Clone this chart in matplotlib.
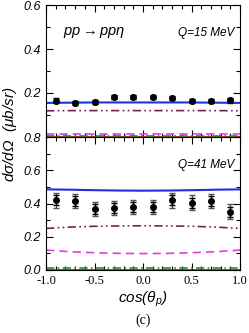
import matplotlib
matplotlib.use('Agg')
import matplotlib.pyplot as plt
from matplotlib.ticker import MultipleLocator, FixedLocator

#---------Data
cos_pts = [-0.9, -0.7, -0.5, -0.3, -0.1, 0.1, 0.3, 0.5, 0.7, 0.9]

# Q = 15 MeV
q15_val = [0.165, 0.155, 0.160, 0.183, 0.182, 0.183, 0.177, 0.163, 0.163, 0.166]
q15_err = [0.010, 0.010, 0.010, 0.010, 0.010, 0.010, 0.010, 0.010, 0.010, 0.010]

# Q = 41 MeV
q41_val = [0.420, 0.415, 0.365, 0.375, 0.380, 0.380, 0.420, 0.405, 0.415, 0.350]
q41_stat = [0.030, 0.030, 0.030, 0.030, 0.030, 0.030, 0.030, 0.030, 0.030, 0.030]
q41_tot = [0.045, 0.045, 0.042, 0.042, 0.042, 0.042, 0.045, 0.045, 0.045, 0.045]

# model curves
cos_line = [-1.0, -0.75, -0.5, -0.25, 0.0, 0.25, 0.5, 0.75, 1.0]
q15_full = [0.155, 0.156, 0.157, 0.157, 0.157, 0.157, 0.157, 0.156, 0.155]
q15_dd = [0.119, 0.120, 0.120, 0.120, 0.120, 0.120, 0.120, 0.120, 0.119]
q15_dash = [0.012, 0.012, 0.012, 0.012, 0.012, 0.012, 0.012, 0.012, 0.012]
q15_green = [0.006, 0.006, 0.006, 0.006, 0.006, 0.006, 0.006, 0.006, 0.006]
q41_full = [0.485, 0.483, 0.480, 0.478, 0.477, 0.478, 0.480, 0.483, 0.485]
q41_dd = [0.250, 0.258, 0.263, 0.265, 0.266, 0.265, 0.263, 0.258, 0.250]
q41_dash = [0.120, 0.110, 0.104, 0.100, 0.099, 0.100, 0.104, 0.110, 0.120]
q41_green = [0.010, 0.010, 0.010, 0.010, 0.010, 0.010, 0.010, 0.010, 0.010]
zero_line = [0.0] * len(cos_line)

#---------Styles
plt.rcParams['mathtext.fontset'] = 'custom'
plt.rcParams['mathtext.it'] = 'Liberation Sans:italic'
plt.rcParams['mathtext.rm'] = 'Liberation Sans:italic'
sans_it = {'family': 'Liberation Sans', 'style': 'italic'}
serif = {'family': 'Liberation Serif'}


def style_axes(ax, ymax, yticks):
    ax.set_xlim(-1.0, 1.0)
    ax.set_ylim(0.0, ymax)
    ax.xaxis.set_major_locator(MultipleLocator(0.5))
    ax.xaxis.set_minor_locator(MultipleLocator(0.1))
    ax.yaxis.set_major_locator(FixedLocator(yticks))
    ax.yaxis.set_minor_locator(MultipleLocator(0.1))
    ax.tick_params(which='both', direction='in', top=True, right=True)
    ax.tick_params(which='major', length=5, width=0.8)
    ax.tick_params(which='minor', length=3, width=0.8)
    ax.set_yticklabels(['%.1f' % t for t in yticks], fontdict=sans_it, fontsize=9)


def draw_curves(ax, full, dd, dash, green):
    ax.plot(cos_line, zero_line, color='#8b2a1a', lw=1.2)
    ax.plot(cos_line, green, color='#2e8b2e', lw=1.2, dashes=[5, 2, 1, 2])
    ax.plot(cos_line, dash, color='#e040e0', lw=1.2, dashes=[5, 3])
    ax.plot(cos_line, dd, color='#7a2050', lw=1.2, dashes=[5, 2, 1, 2, 1, 2])
    ax.plot(cos_line, full, color='#2030e0', lw=1.5)


fig = plt.figure(figsize=(2.49, 3.33), dpi=100)

ax_top = fig.add_axes([46 / 249, 1 - 137 / 333, 194 / 249, 132 / 333])
ax_bot = fig.add_axes([46 / 249, 1 - 270 / 333, 194 / 249, 133 / 333])

# top panel
draw_curves(ax_top, q15_full, q15_dd, q15_dash, q15_green)
ax_top.errorbar(cos_pts, q15_val, yerr=q15_err, fmt='o', color='black',
                ms=4, elinewidth=1, capsize=2, zorder=5)
style_axes(ax_top, 0.6, [0.2, 0.4, 0.6])
ax_top.set_xticklabels([])
ax_top.text(0.09, 0.79, r'$pp \rightarrow pp\eta$', transform=ax_top.transAxes,
            fontsize=10.5, va='center')
ax_top.text(0.97, 0.79, 'Q=15 MeV', transform=ax_top.transAxes, ha='right',
            va='center', fontdict=sans_it, fontsize=8.5)

# bottom panel
draw_curves(ax_bot, q41_full, q41_dd, q41_dash, q41_green)
ax_bot.errorbar(cos_pts, q41_val, yerr=q41_tot, fmt='none', ecolor='#505050',
                elinewidth=1, capsize=2.5, zorder=4)
ax_bot.errorbar(cos_pts, q41_val, yerr=q41_stat, fmt='o', color='black',
                ms=4, elinewidth=1, capsize=2, zorder=5)
style_axes(ax_bot, 0.8, [0.0, 0.2, 0.4, 0.6, 0.8])
ax_bot.set_xticks([-1.0, -0.5, 0.0, 0.5, 1.0])
ax_bot.set_xticklabels(['-1.0', '-0.5', '0.0', '0.5', '1.0'], fontdict=serif, fontsize=9)
ax_bot.text(0.97, 0.79, 'Q=41 MeV', transform=ax_bot.transAxes, ha='right',
            va='center', fontdict=sans_it, fontsize=8.5)
ax_bot.set_xlabel(r'cos($\theta_p$)', fontdict=sans_it, fontsize=11, labelpad=2)

# shared y label
fig.text(0.04, 1 - 134 / 333, r'd$\sigma$/d$\Omega$  ($\mu$b/sr)', rotation=90,
         va='center', ha='center', fontdict=sans_it, fontsize=11)

fig.text(143 / 249, 1 - 320 / 333, '(c)', ha='center', va='center', fontdict=serif, fontsize=10)

fig.savefig('out.png', dpi=100)
